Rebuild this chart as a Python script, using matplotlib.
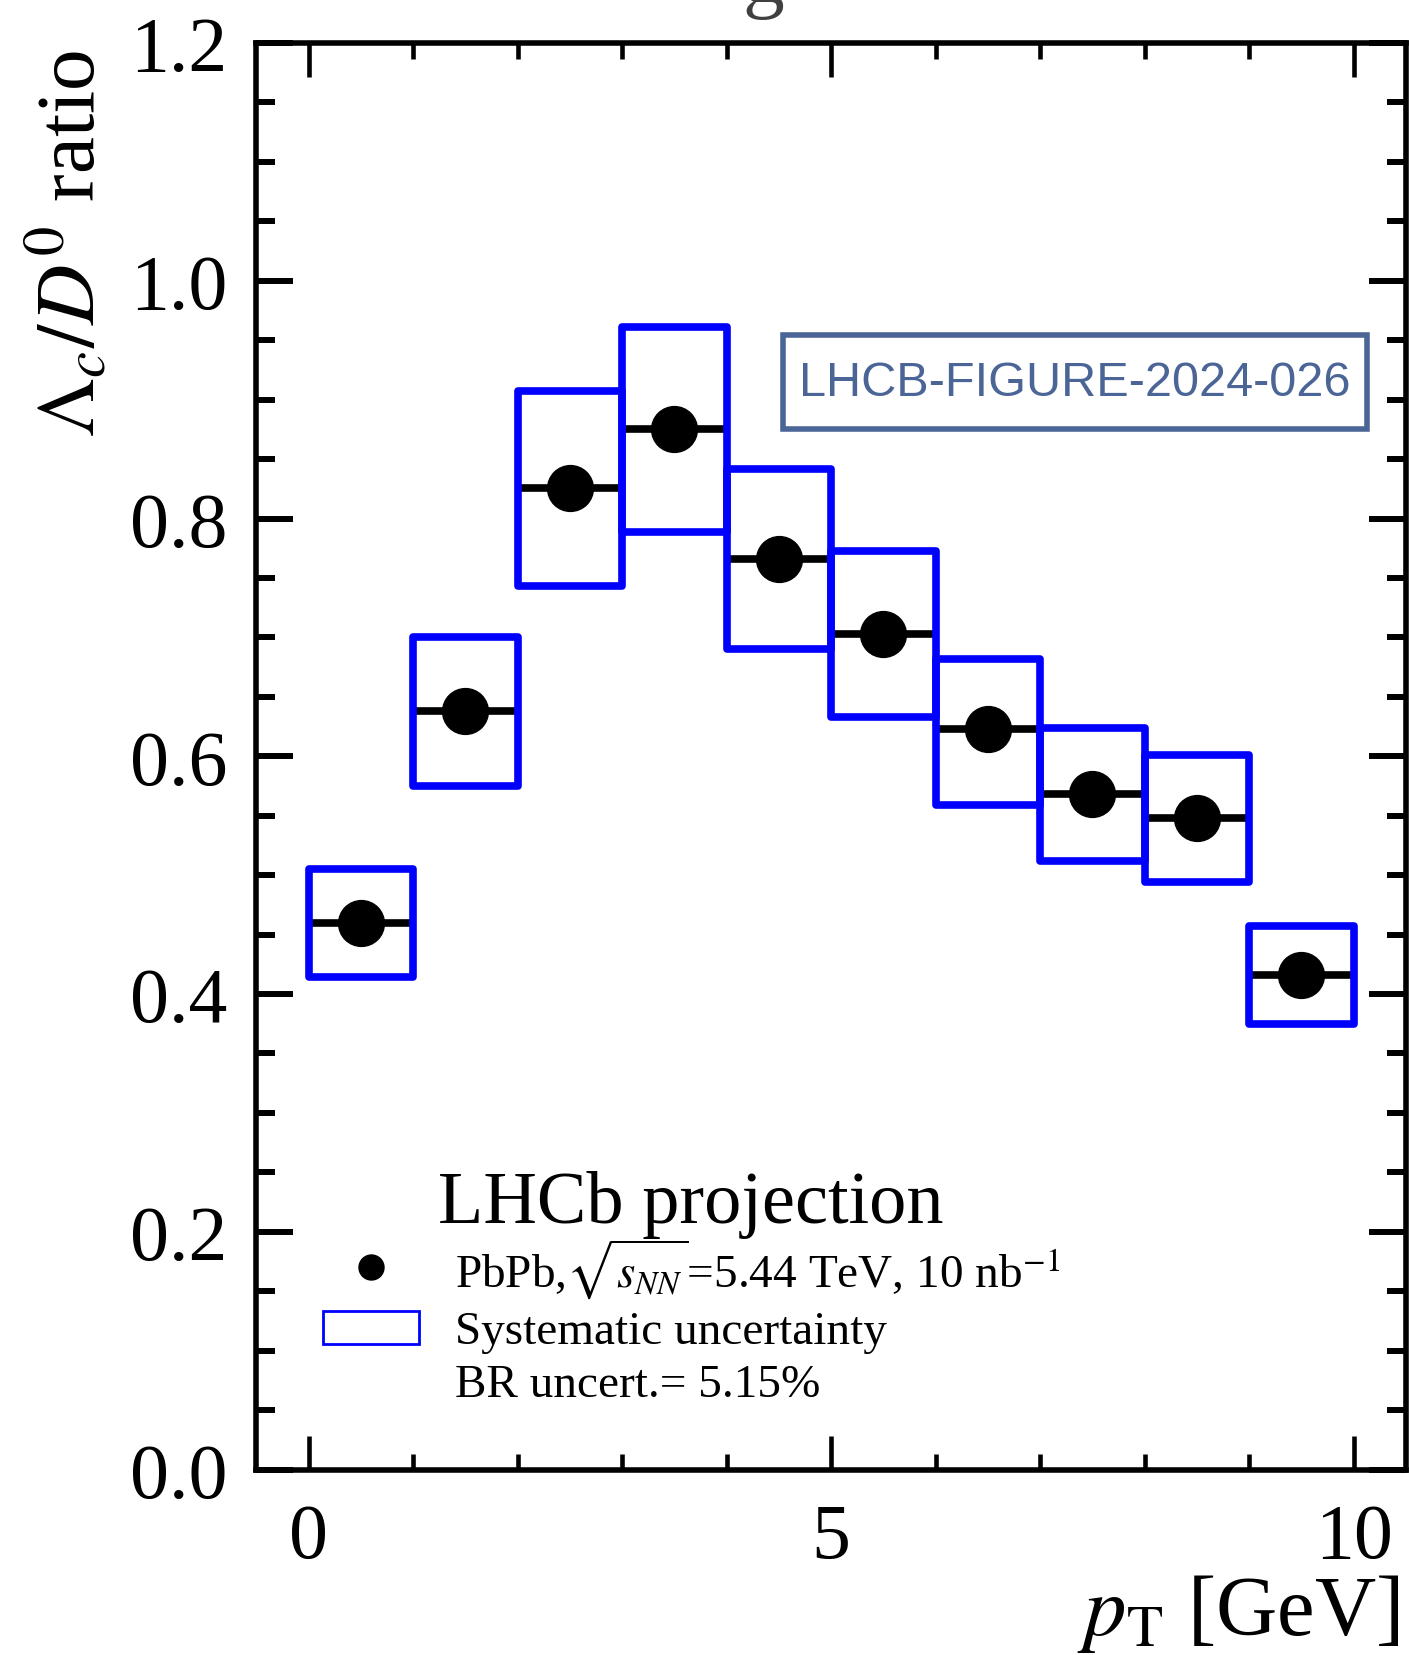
import matplotlib
matplotlib.use('Agg')
import matplotlib.pyplot as plt
from matplotlib.lines import Line2D
from matplotlib.patches import Rectangle
from matplotlib.legend_handler import HandlerPatch
from matplotlib.ticker import MultipleLocator
import numpy as np

# pT bins [GeV] and Lambda_c / D0 ratio with systematic band edges
bin_lo = [0, 1, 2, 3, 4, 5, 6, 7, 8, 9]
bin_hi = [1, 2, 3, 4, 5, 6, 7, 8, 9, 10]
ratio = [0.460, 0.638, 0.826, 0.875, 0.766, 0.703, 0.623, 0.568, 0.548, 0.416]
sys_up = [0.505, 0.700, 0.907, 0.961, 0.842, 0.773, 0.682, 0.624, 0.601, 0.457]
sys_down = [0.414, 0.575, 0.743, 0.789, 0.690, 0.633, 0.559, 0.512, 0.494, 0.375]

x_ticks = [0, 5, 10]
y_ticks = [0.0, 0.2, 0.4, 0.6, 0.8, 1.0, 1.2]

rcParams = plt.rcParams
rcParams['font.family'] = 'Liberation Serif'
rcParams['mathtext.fontset'] = 'stix'

BLUE = '#0000ff'


# legend box keeps a fixed height, whatever the row height is
def flat_box(legend, orig_handle, xdescent, ydescent, width, height, fontsize):
	h = 0.7 * fontsize
	return Rectangle((-xdescent, -ydescent + 0.5 * (height - h)), width, h)


def main():
	lo = np.array(bin_lo, dtype=float)
	hi = np.array(bin_hi, dtype=float)
	centre = 0.5 * (lo + hi)
	half = 0.5 * (hi - lo)
	y = np.array(ratio)
	up = np.array(sys_up)
	down = np.array(sys_down)

	fig = plt.figure(figsize=(14.09, 16.56), dpi=100)
	ax = fig.add_axes([0.1820, 0.1120, 0.8158, 0.8614])

	# points with bin-width bars
	ax.errorbar(centre, y, xerr=half, fmt='o', color='k', ms=33,
				elinewidth=5.5, capsize=0, zorder=3)
	# systematic boxes
	ax.bar(centre, up - down, width=hi - lo, bottom=down, fill=False,
		   edgecolor=BLUE, linewidth=5.5, joinstyle='round', zorder=4)

	ax.set_xlim(-0.5, 10.5)
	ax.set_ylim(0.0, 1.2)
	ax.xaxis.set_major_locator(MultipleLocator(5))
	ax.xaxis.set_minor_locator(MultipleLocator(1))
	ax.yaxis.set_major_locator(MultipleLocator(0.2))
	ax.yaxis.set_minor_locator(MultipleLocator(0.05))
	ax.set_xticks(x_ticks)
	ax.set_yticks(y_ticks)
	ax.set_yticklabels(['%.1f' % v for v in y_ticks])

	ax.tick_params(axis='both', which='both', direction='in', top=True, right=True)
	ax.tick_params(axis='x', which='major', length=24.5, width=3.3, pad=24, labelsize=56)
	ax.tick_params(axis='x', which='minor', length=11.5, width=3.3)
	ax.tick_params(axis='y', which='major', length=26.5, width=4.3, pad=21, labelsize=56)
	ax.tick_params(axis='y', which='minor', length=13.5, width=4.3)
	for s in ax.spines.values():
		s.set_linewidth(4)

	# axis titles
	ax.set_ylabel(r'$\Lambda_{c}/D^{0}$ ratio', fontsize=60, loc='top')
	ax.yaxis.set_label_coords(-0.125, 0.996)
	ax.set_xlabel(r'$p_{\mathrm{T}}$ [GeV]', fontsize=61, loc='right')
	ax.xaxis.label.set_va('baseline')
	ax.xaxis.set_label_coords(0.9948, -0.1153)

	# legend
	handles = [
		Line2D([], [], marker='o', ls='none', color='k', ms=18),
		Rectangle((0, 0), 1, 1, fill=False, edgecolor=BLUE, lw=2),
		Line2D([], [], ls='none'),
	]
	labels = [
		r'PbPb,$\sqrt{s_{NN}}$=5.44 TeV, 10 nb$^{-1}$',
		'Systematic uncertainty',
		'BR uncert.= 5.15%',
	]
	ax.legend(handles, labels, loc='upper left', bbox_to_anchor=(0.0579, 0.1634),
			  frameon=False, fontsize=34, handlelength=2.03, handletextpad=0.76,
			  handleheight=1.1, labelspacing=0.08, borderpad=0, borderaxespad=0,
			  handler_map={Rectangle: HandlerPatch(patch_func=flat_box)})
	ax.text(0.378, 0.1735, 'LHCb projection', transform=ax.transAxes,
			ha='center', va='baseline', fontsize=53.5)

	# figure reference tag
	tag_col = '#4a6596'
	ax.add_patch(Rectangle((0.458, 0.7294), 0.966 - 0.458, 0.7953 - 0.7294,
						   transform=ax.transAxes, fill=False, edgecolor=tag_col,
						   lw=4, zorder=5))
	ax.text(0.712, 0.7623, 'LHCB-FIGURE-2024-026', transform=ax.transAxes,
			ha='center', va='center', color=tag_col, fontsize=35,
			family='Liberation Sans', zorder=5)

	# title line sits above the canvas
	fig.text(0.542, 1 - 2.0 / 1656, 'g', ha='center', va='baseline',
			 fontsize=60, color='#404040')

	fig.savefig('out.png', dpi=100)


if __name__ == '__main__':
	main()
